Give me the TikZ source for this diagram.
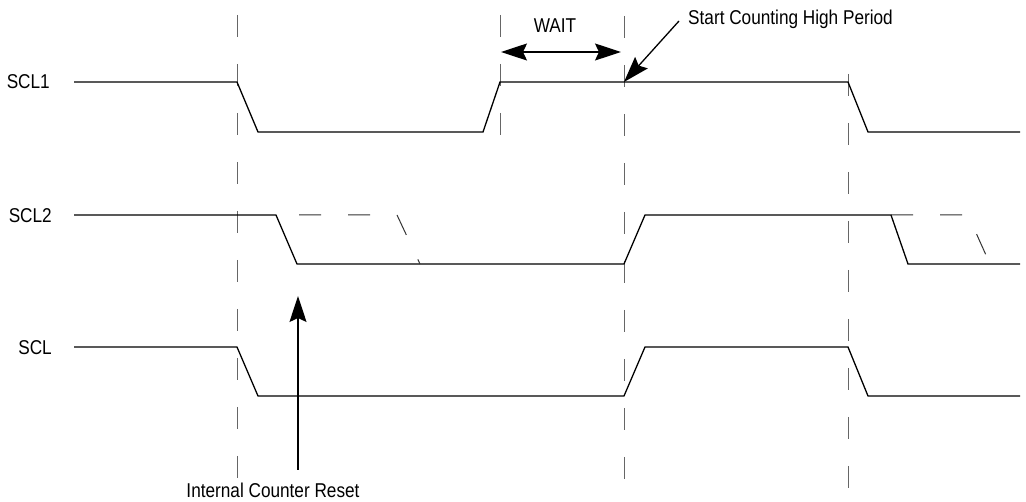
\documentclass[tikz,border=0pt]{standalone}
\usepackage{fontspec}
\setmainfont{Liberation Sans}[FakeStretch=0.86]
\usetikzlibrary{arrows.meta}
\begin{document}
\begin{tikzpicture}[x=1pt,y=-1pt,
  sig/.style={line width=1.3pt,line join=miter},
  guide/.style={line width=0.9pt,draw=black!60,dash pattern=on 22pt off 27pt},
  ghost/.style={line width=1pt,draw=black!80,dash pattern=on 22pt off 27pt},
  lbl/.style={font=\fontsize{20}{24}\selectfont,inner sep=0pt},
  bigarrow/.style={line width=1.3pt,-{Stealth[length=26pt,width=17pt,inset=4pt]}},
  dblarrow/.style={line width=1.3pt,{Stealth[length=26pt,width=17pt,inset=4pt]}-{Stealth[length=26pt,width=17pt,inset=4pt]}}]
\useasboundingbox (0,0) rectangle (1026,502);
% guide lines
\coordinate (g1t) at (237,15);  \coordinate (g1b) at (237,478);
\coordinate (g2t) at (500,15);  \coordinate (g2b) at (500,136);
\coordinate (g3t) at (624,16);  \coordinate (g3b) at (624,480);
\coordinate (g4t) at (848,74);  \coordinate (g4b) at (848,488);
\draw[guide] (g1t) -- (g1b);
\draw[guide] (g2t) -- (g2b);
\draw[guide] (g3t) -- (g3b);
\draw[guide] (g4t) -- (g4b);
% labels
\node[lbl,anchor=base east] (l1) at (50,89) {SCL1};
\node[lbl,anchor=base east] (l2) at (52,223) {SCL2};
\node[lbl,anchor=base east] (l3) at (52,355) {SCL};
% SCL1
\coordinate (a0) at (74,82);
\draw[sig] (a0) -- (237,82) -- (258,132) -- (483,132) -- (500,82) -- (848,82) -- (868,132) -- (1020,132);
% SCL2
\coordinate (b0) at (74,215);
\draw[sig] (b0) -- (276,215) -- (297,264) -- (624,264) -- (645,215) -- (891,215) -- (908,264) -- (1020,264);
\draw[ghost,dash phase=26pt] (276,215) -- (397,215) -- (420,264);
\draw[ghost,dash phase=0pt] (891,215) -- (968,215) -- (990,264);
% SCL
\coordinate (c0) at (74,347);
\draw[sig] (c0) -- (237,347) -- (258,396) -- (624,396) -- (645,347) -- (848,347) -- (868,396) -- (1020,396);
% annotations
\node[lbl,anchor=base] (wait) at (555,33) {WAIT};
\coordinate (w1) at (501,52); \coordinate (w2) at (621,52);
\draw[dblarrow] (w1) -- (w2);
\node[lbl,anchor=base west] (start) at (688,25) {Start Counting High Period};
\coordinate (s1) at (679,21); \coordinate (s2) at (624,82);
\draw[bigarrow] (s1) -- (s2);
\node[lbl,anchor=base] (reset) at (273,497) {Internal Counter Reset};
\coordinate (r1) at (298,470); \coordinate (r2) at (298,296);
\draw[bigarrow] (r1) -- (r2);
\end{tikzpicture}
\end{document}
